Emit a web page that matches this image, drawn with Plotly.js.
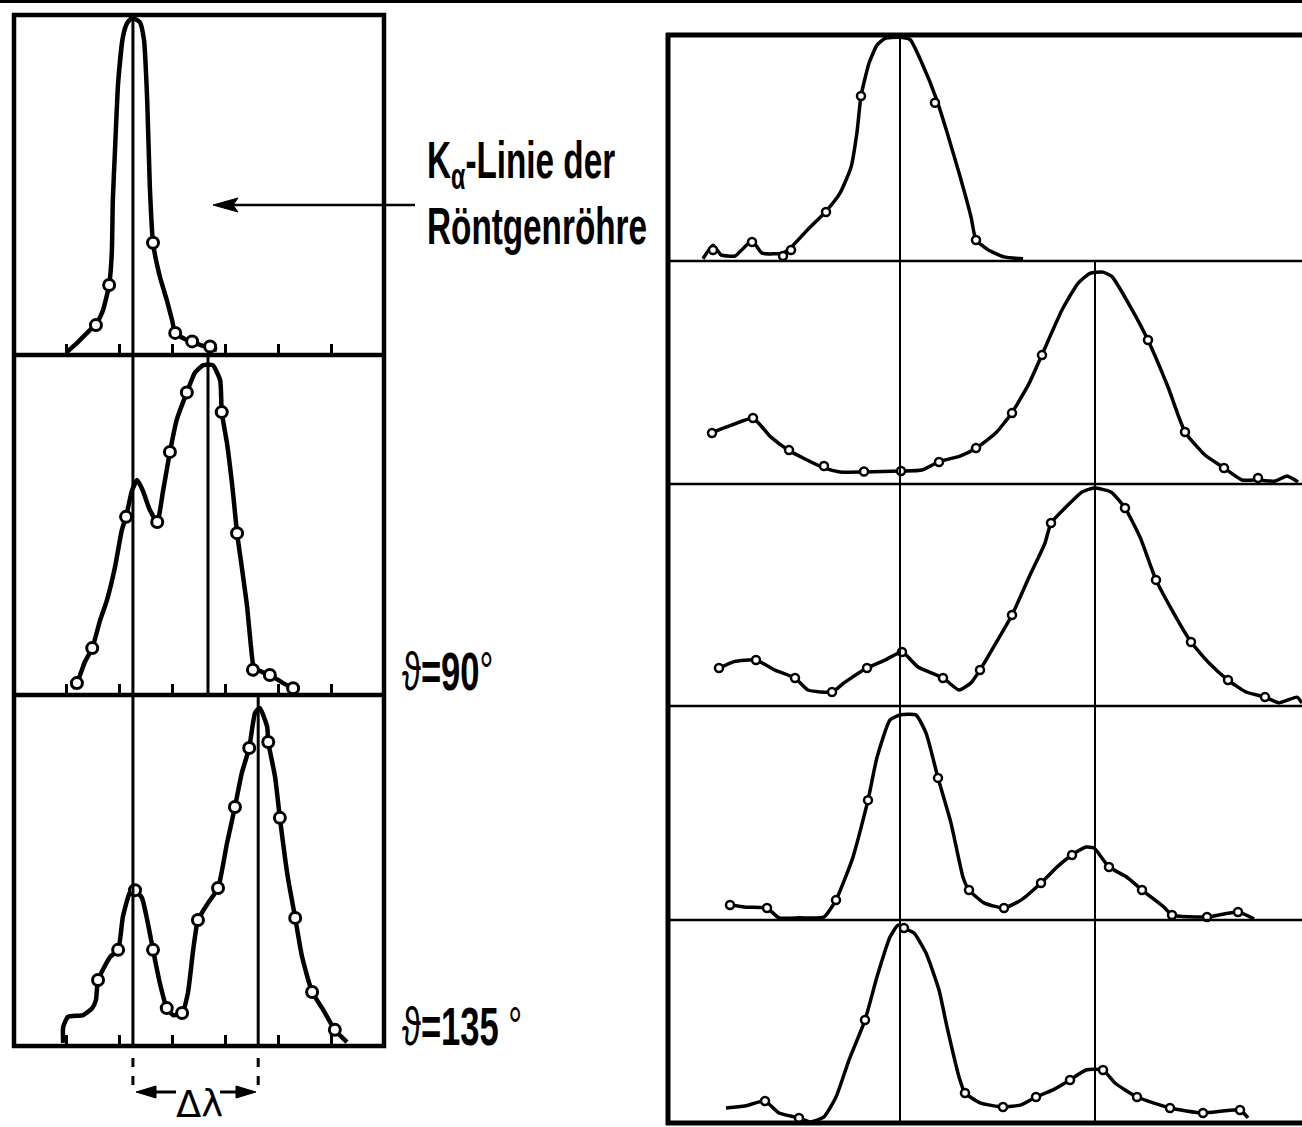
<!DOCTYPE html>
<html>
<head>
<meta charset="utf-8">
<script src="https://cdn.plot.ly/plotly-3.0.1.min.js"></script>
<style>html,body{margin:0;padding:0;background:#fff;}#chart{width:1302px;height:1127px;}</style>
</head>
<body>
<div id="chart"></div>
<script>
// ---------- DATA (arbitrary wavelength units, relative intensity) ----------
// Left column, panel 1: Kα line of the X-ray tube
const L1_curveX = [1.00,1.19,1.44,1.55,1.68,1.80,1.85,1.87,1.91,1.97,2.06,2.14,2.23,2.38,2.46,2.52,2.57,2.63,2.76,2.89,2.99,3.05,3.27,3.52,3.84];
const L1_curveY = [0.009,0.035,0.074,0.088,0.13,0.206,0.30,0.456,0.60,0.80,0.935,0.976,0.991,0.979,0.926,0.75,0.494,0.33,0.23,0.162,0.103,0.065,0.044,0.03,0.015];
const L1_pointX = [1.55,1.80,2.63,3.05,3.37,3.71];
const L1_pointY = [0.088,0.206,0.33,0.065,0.04,0.025];

// Left column, panel 2: ϑ = 90°
const L2_curveX = [1.10,1.19,1.34,1.48,1.63,1.76,1.91,2.04,2.12,2.23,2.33,2.44,2.57,2.71,2.82,2.95,3.08,3.27,3.42,3.58,3.76,3.90,3.93,4.03,4.14,4.22,4.31,4.41,4.48,4.54,4.69,4.84,5.09,5.28,5.37];
const L2_curveY = [0.02,0.035,0.097,0.138,0.22,0.28,0.376,0.485,0.524,0.60,0.632,0.60,0.544,0.509,0.60,0.715,0.81,0.89,0.947,0.97,0.97,0.926,0.832,0.74,0.60,0.476,0.376,0.26,0.147,0.08,0.068,0.059,0.035,0.02,0.015];
const L2_pointX = [1.19,1.48,2.12,2.71,2.95,3.27,3.93,4.22,4.52,4.84,5.28];
const L2_pointY = [0.035,0.138,0.524,0.509,0.715,0.89,0.832,0.476,0.074,0.059,0.02];

// Left column, panel 3: ϑ = 135°
const L3_curveX = [0.93,0.93,1.02,1.31,1.48,1.55,1.59,1.82,1.97,2.06,2.19,2.29,2.42,2.52,2.63,2.76,2.89,3.01,3.18,3.29,3.39,3.48,3.67,3.86,4.03,4.18,4.31,4.45,4.56,4.65,4.79,4.81,4.94,5.03,5.18,5.32,5.45,5.64,5.85,6.07,6.30];
const L3_curveY = [0.009,0.054,0.083,0.088,0.108,0.131,0.188,0.254,0.274,0.368,0.436,0.444,0.422,0.359,0.274,0.179,0.108,0.088,0.094,0.151,0.274,0.359,0.407,0.45,0.578,0.681,0.778,0.849,0.949,0.963,0.909,0.866,0.766,0.65,0.481,0.365,0.254,0.154,0.103,0.046,0.011];
const L3_pointX = [1.59,1.97,2.29,2.63,2.89,3.18,3.48,3.86,4.18,4.45,4.81,5.03,5.32,5.64,6.07];
const L3_pointY = [0.188,0.274,0.444,0.274,0.108,0.094,0.359,0.45,0.681,0.849,0.866,0.65,0.365,0.154,0.046];

// Right column, panels 1-5
const R1_curveX = [0.70,0.90,1.06,1.34,1.68,1.88,2.30,2.46,2.80,3.16,3.44,3.66,3.78,3.86,4.02,4.18,4.34,4.60,4.84,5.08,5.38,5.58,5.82,6.06,6.16,6.40,6.72,7.10];
const R1_curveY = [0.01,0.07,0.027,0.022,0.09,0.035,0.035,0.06,0.14,0.22,0.30,0.415,0.57,0.73,0.875,0.955,0.985,0.99,0.98,0.875,0.71,0.57,0.39,0.195,0.093,0.05,0.018,0.01];
const R1_pointX = [0.90,1.68,2.30,2.46,3.16,3.86,5.34,6.16];
const R1_pointY = [0.049,0.084,0.022,0.049,0.217,0.73,0.70,0.093];

const R2_curveX = [0.88,1.28,1.70,2.06,2.42,2.76,3.12,3.44,3.92,4.66,5.08,5.42,5.84,6.16,6.56,6.88,7.22,7.48,7.88,8.20,8.44,8.70,8.88,9.26,9.60,10.00,10.34,10.74,11.12,11.48,11.80,12.14,12.38,12.60];
const R2_curveY = [0.23,0.265,0.295,0.21,0.15,0.11,0.072,0.054,0.054,0.058,0.063,0.10,0.125,0.16,0.23,0.32,0.45,0.58,0.78,0.90,0.945,0.95,0.93,0.79,0.645,0.435,0.233,0.13,0.072,0.018,0.018,0.013,0.036,0.009];
const R2_pointX = [0.88,1.70,2.42,3.12,3.92,4.66,5.42,6.16,6.88,7.48,9.60,10.34,11.12,11.80];
const R2_pointY = [0.229,0.296,0.152,0.081,0.056,0.058,0.099,0.161,0.318,0.578,0.646,0.233,0.072,0.027];

const R3_curveX = [1.02,1.32,1.76,2.14,2.54,2.80,3.28,3.52,3.98,4.34,4.68,5.00,5.50,5.82,6.06,6.24,6.56,6.88,7.22,7.54,7.66,8.04,8.28,8.52,8.86,9.14,9.44,9.76,10.08,10.46,10.82,11.20,11.56,11.94,12.22,12.58,12.68];
const R3_curveY = [0.17,0.20,0.207,0.162,0.126,0.072,0.063,0.104,0.171,0.207,0.243,0.176,0.126,0.072,0.104,0.162,0.284,0.41,0.58,0.734,0.824,0.914,0.964,0.982,0.964,0.892,0.761,0.568,0.432,0.288,0.194,0.117,0.063,0.04,0.014,0.04,0.014];
const R3_pointX = [1.02,1.76,2.54,3.28,3.98,4.68,5.50,6.24,6.88,7.66,9.14,9.76,10.46,11.20,11.94];
const R3_pointY = [0.171,0.207,0.126,0.063,0.171,0.243,0.126,0.162,0.41,0.824,0.892,0.568,0.288,0.117,0.04];

const R4_curveX = [1.24,1.56,1.98,2.22,2.64,3.12,3.36,3.70,4.00,4.18,4.44,4.64,4.96,5.16,5.40,5.66,5.90,6.02,6.32,6.72,7.06,7.46,7.80,8.08,8.36,8.52,8.82,9.18,9.48,9.92,10.08,10.78,11.40,11.72];
const R4_curveY = [0.07,0.06,0.056,0.01,0.01,0.014,0.093,0.294,0.56,0.76,0.935,0.958,0.958,0.874,0.664,0.453,0.20,0.14,0.08,0.056,0.093,0.173,0.252,0.304,0.341,0.336,0.248,0.20,0.14,0.06,0.023,0.014,0.037,0.005];
const R4_pointX = [1.24,1.98,3.36,4.00,5.40,6.02,6.72,7.46,8.08,8.82,9.48,10.08,10.78,11.40];
const R4_pointY = [0.07,0.056,0.093,0.56,0.664,0.14,0.056,0.173,0.304,0.248,0.14,0.023,0.014,0.037];

const R5_curveX = [1.16,1.54,1.94,2.22,2.62,2.84,3.12,3.36,3.62,3.94,4.18,4.44,4.60,4.72,4.92,5.16,5.42,5.58,5.82,5.94,6.24,6.70,7.06,7.36,7.70,8.04,8.36,8.70,8.94,9.38,10.04,10.70,11.44,11.60];
const R5_curveY = [0.074,0.084,0.108,0.049,0.025,0.005,0.03,0.128,0.31,0.507,0.72,0.916,0.975,0.96,0.936,0.837,0.655,0.473,0.227,0.148,0.099,0.079,0.089,0.128,0.163,0.212,0.261,0.261,0.197,0.128,0.074,0.049,0.064,0.025];
const R5_pointX = [1.94,2.62,3.94,4.72,5.94,6.70,7.36,8.04,8.70,9.38,10.04,10.70,11.44];
const R5_pointY = [0.108,0.025,0.507,0.96,0.148,0.079,0.128,0.212,0.261,0.128,0.074,0.049,0.064];

// reference wavelengths (vertical lines)
const L_lineUnshifted = 2.25;
const L_line90 = 3.67;
const L_line135 = 4.62;
const R_lineA = 4.64;
const R_lineB = 8.54;
const L_tickVals = [1,2,3,4,5,6];

// text labels
const labelKalpha1 = "K<sub>α</sub>-Linie der";
const labelKalpha2 = "Röntgenröhre";
const label90 = "ϑ<b>=90</b>°";
const label135 = "ϑ<b>=135</b> °";
const labelDelta = "Δλ";

// ---------- LAYOUT ----------
const W = 1302, H = 1127;
const fx = p => p / W;
const fy = p => 1 - p / H;
const LX = [fx(14), fx(384)];
const RX = [fx(668), 1];
const leftRows = [[355,15],[695,355],[1046,695]];
const rightRows = [[261,35],[484,261],[706,484],[920,706],[1123,920]];

const sets = [
  [L1_curveX,L1_curveY,L1_pointX,L1_pointY],
  [L2_curveX,L2_curveY,L2_pointX,L2_pointY],
  [L3_curveX,L3_curveY,L3_pointX,L3_pointY],
  [R1_curveX,R1_curveY,R1_pointX,R1_pointY],
  [R2_curveX,R2_curveY,R2_pointX,R2_pointY],
  [R3_curveX,R3_curveY,R3_pointX,R3_pointY],
  [R4_curveX,R4_curveY,R4_pointX,R4_pointY],
  [R5_curveX,R5_curveY,R5_pointX,R5_pointY]
];

const traces = [];
const layout = {
  width: W, height: H,
  margin: {l:0,r:0,t:0,b:0,pad:0},
  paper_bgcolor: '#fff', plot_bgcolor: 'rgba(0,0,0,0)',
  showlegend: false,
  font: {family: 'Liberation Sans, sans-serif', color: '#000'},
  shapes: [], annotations: []
};

sets.forEach((s, i) => {
  const n = i + 1;
  const xa = n === 1 ? 'x' : 'x' + n;
  const ya = n === 1 ? 'y' : 'y' + n;
  const left = i < 3;
  const lw = left ? 4.5 : 3.5;
  traces.push({x: s[0], y: s[1], xaxis: xa, yaxis: ya, mode: 'lines', type: 'scatter',
    line: {color: '#000', width: lw, shape: 'spline', smoothing: 0.5}, hoverinfo: 'skip'});
  traces.push({x: s[2], y: s[3], xaxis: xa, yaxis: ya, mode: 'markers', type: 'scatter',
    marker: {symbol: 'circle', size: left ? 11 : 8, color: '#fff', line: {color: '#000', width: left ? 3 : 2.5}},
    cliponaxis: false, hoverinfo: 'skip'});
  const row = left ? leftRows[i] : rightRows[i - 3];
  const xKey = n === 1 ? 'xaxis' : 'xaxis' + n;
  const yKey = n === 1 ? 'yaxis' : 'yaxis' + n;
  layout[xKey] = {
    domain: left ? LX : RX, range: left ? [0, 7] : [0, 12.68], anchor: ya,
    showgrid: false, zeroline: false, showline: false, showticklabels: false,
    ticks: left ? 'inside' : '', tickvals: left ? L_tickVals : [], ticklen: 11, tickwidth: 3, tickcolor: '#000',
    fixedrange: true
  };
  layout[yKey] = {
    domain: [fy(row[0]), fy(row[1])], range: [0, 1], anchor: xa,
    showgrid: false, zeroline: false, showline: false, showticklabels: false, ticks: '', fixedrange: true
  };
});

const S = layout.shapes;
const black = '#000';
const P = (x, y) => fx(x) + ',' + fy(y);
// top rule across the page
S.push({type:'line', xref:'paper', yref:'paper', x0:0, x1:1, y0:fy(1.5), y1:fy(1.5), line:{color:black, width:3}});
// left frame
S.push({type:'rect', xref:'paper', yref:'paper', x0:fx(14), x1:fx(384), y0:fy(1046), y1:fy(15), line:{color:black, width:4.5}});
[355, 695].forEach(p => S.push({type:'line', xref:'paper', yref:'paper', x0:fx(14), x1:fx(384), y0:fy(p), y1:fy(p), line:{color:black, width:4.5}}));
// right frame
S.push({type:'line', xref:'paper', yref:'paper', x0:fx(666), x1:1, y0:fy(35), y1:fy(35), line:{color:black, width:5}});
S.push({type:'line', xref:'paper', yref:'paper', x0:fx(666), x1:1, y0:fy(1123), y1:fy(1123), line:{color:black, width:5}});
S.push({type:'line', xref:'paper', yref:'paper', x0:fx(668), x1:fx(668), y0:fy(1125), y1:fy(33), line:{color:black, width:5}});
[261, 484, 706, 920].forEach(p => S.push({type:'line', xref:'paper', yref:'paper', x0:fx(668), x1:1, y0:fy(p), y1:fy(p), line:{color:black, width:2.5}}));
// reference lines, left
S.push({type:'line', xref:'x', yref:'paper', x0:L_lineUnshifted, x1:L_lineUnshifted, y0:fy(1046), y1:fy(15), line:{color:black, width:3}});
S.push({type:'line', xref:'x2', yref:'y2 domain', x0:L_line90, x1:L_line90, y0:0, y1:1, line:{color:black, width:3}});
S.push({type:'line', xref:'x3', yref:'y3 domain', x0:L_line135, x1:L_line135, y0:0, y1:1, line:{color:black, width:3}});
// dashed extension lines for Δλ
S.push({type:'line', xref:'x3', yref:'paper', x0:L_lineUnshifted, x1:L_lineUnshifted, y0:fy(1085), y1:fy(1054), line:{color:black, width:3, dash:'dash'}});
S.push({type:'line', xref:'x3', yref:'paper', x0:L_line135, x1:L_line135, y0:fy(1085), y1:fy(1054), line:{color:black, width:3, dash:'dash'}});
// reference lines, right
S.push({type:'line', xref:'x4', yref:'paper', x0:R_lineA, x1:R_lineA, y0:fy(1123), y1:fy(35), line:{color:black, width:2}});
S.push({type:'line', xref:'x5', yref:'paper', x0:R_lineB, x1:R_lineB, y0:fy(1123), y1:fy(261), line:{color:black, width:2}});
// Kα pointer arrow
S.push({type:'line', xref:'paper', yref:'paper', x0:fx(230), x1:fx(415), y0:fy(205), y1:fy(205), line:{color:black, width:2.5}});
S.push({type:'path', xref:'paper', yref:'paper', path:'M'+P(213,205)+'L'+P(238,198)+'L'+P(233,205)+'L'+P(238,212)+'Z', fillcolor:black, line:{color:black, width:1}});
// Δλ arrows
S.push({type:'line', xref:'paper', yref:'paper', x0:fx(145), x1:fx(176), y0:fy(1092), y1:fy(1092), line:{color:black, width:3}});
S.push({type:'path', xref:'paper', yref:'paper', path:'M'+P(136,1092)+'L'+P(156,1086)+'L'+P(156,1098)+'Z', fillcolor:black, line:{color:black, width:1}});
S.push({type:'line', xref:'paper', yref:'paper', x0:fx(220), x1:fx(248), y0:fy(1092), y1:fy(1092), line:{color:black, width:3}});
S.push({type:'path', xref:'paper', yref:'paper', path:'M'+P(256,1092)+'L'+P(236,1086)+'L'+P(236,1098)+'Z', fillcolor:black, line:{color:black, width:1}});

const A = layout.annotations;
const bigFont = {family:'Liberation Sans, Arial, sans-serif', size:52, color:black, weight:'bold'};
A.push({xref:'paper', yref:'paper', x:fx(425), y:fy(164), xanchor:'left', yanchor:'middle', text:labelKalpha1, showarrow:false, font:bigFont});
A.push({xref:'paper', yref:'paper', x:fx(425), y:fy(226), xanchor:'left', yanchor:'middle', text:labelKalpha2, showarrow:false, font:bigFont});
A.push({xref:'paper', yref:'paper', x:fx(400), y:fy(671), xanchor:'left', yanchor:'middle', text:label90, showarrow:false, font:{family:bigFont.family, size:54, color:black}});
A.push({xref:'paper', yref:'paper', x:fx(400), y:fy(1026), xanchor:'left', yanchor:'middle', text:label135, showarrow:false, font:{family:bigFont.family, size:54, color:black}});
A.push({xref:'paper', yref:'paper', x:fx(199), y:fy(1104), xanchor:'center', yanchor:'middle', text:labelDelta, showarrow:false, font:{family:'DejaVu Sans, sans-serif', size:37, color:black}});

Plotly.newPlot('chart', traces, layout, {displayModeBar:false, staticPlot:true}).then(gd => {
  // condensed lettering as in the original figure
  gd.querySelectorAll('.annotation-text').forEach(t => {
    if (t.textContent !== labelDelta) {
      t.style.transformBox = 'fill-box';
      t.style.transformOrigin = 'left center';
      t.style.transform = 'scaleX(0.64)';
    }
  });
});
</script>
</body>
</html>
